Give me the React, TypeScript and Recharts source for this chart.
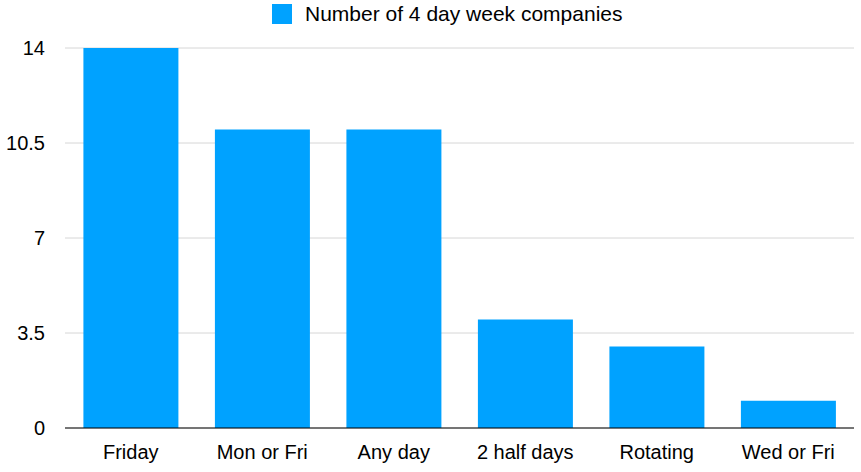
import { Bar, BarChart, CartesianGrid, Legend, XAxis, YAxis } from 'recharts'

const categories = ['Friday', 'Mon or Fri', 'Any day', '2 half days', 'Rotating', 'Wed or Fri']
const companies = [14, 11, 11, 4, 3, 1]
const yTicks = [0, 3.5, 7, 10.5, 14]

const data = categories.map((day, i) => ({ day, companies: companies[i] }))

const font = '"Liberation Sans", Arial, Helvetica, sans-serif'

const LegendContent = () => (
  <div style={{ display: 'flex', alignItems: 'center', paddingLeft: 272, fontFamily: font, fontSize: 21, color: '#000', height: 22 }}>
    <span style={{ width: 20, height: 20, background: '#00A2FF', display: 'inline-block', marginRight: 13 }} />
    <span>Number of 4 day week companies</span>
  </div>
)

export default function App() {
  return (
    <div style={{ position: 'absolute', left: 0, top: 0, background: '#fff' }}>
      <BarChart
        width={861}
        height={472}
        data={data}
        margin={{ top: 26, right: 7, bottom: 0, left: 0 }}
        barCategoryGap="14%"
      >
        <Legend
          verticalAlign="top"
          align="left"
          content={<LegendContent />}
          wrapperStyle={{ top: 3, left: 0, width: 861, height: 22 }}
        />
        <CartesianGrid vertical={false} stroke="#d6d6d6" />
        <XAxis
          dataKey="day"
          height={44}
          tickLine={false}
          axisLine={{ stroke: '#000' }}
          tickMargin={11}
          tick={{ fill: '#000', fontSize: 20, fontFamily: font }}
        />
        <YAxis
          width={65}
          domain={[0, 14]}
          ticks={yTicks}
          tickLine={false}
          axisLine={false}
          tickMargin={14}
          tick={{ fill: '#000', fontSize: 20, fontFamily: font }}
        />
        <Bar dataKey="companies" fill="#00A2FF" isAnimationActive={false} />
      </BarChart>
    </div>
  )
}
